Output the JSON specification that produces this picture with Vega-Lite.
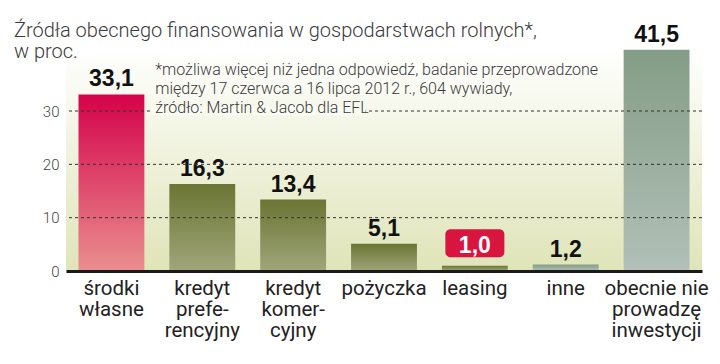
{
  "$schema": "https://vega.github.io/schema/vega-lite/v6.json",
  "width": 636,
  "height": 224,
  "autosize": {"type": "none"},
  "padding": {"left": 66, "top": 47, "right": 18, "bottom": 93},
  "background": "white",
  "title": {
    "text": ["Źródła obecnego finansowania w gospodarstwach rolnych*,", "w proc."],
    "anchor": "start",
    "frame": "group",
    "dx": -52,
    "dy": 42,
    "font": "Roboto",
    "fontSize": 20,
    "fontWeight": 300,
    "color": "#3a3a3a",
    "lineHeight": 21,
    "offset": 4
  },
  "config": {
    "locale": {"number": {"decimal": ",", "thousands": " ", "grouping": [3], "currency": ["", " zł"]}},
    "view": {
      "stroke": null,
      "fill": {"gradient": "linear", "x1": 0, "y1": 0, "x2": 0, "y2": 1, "stops": [{"offset": 0, "color": "#ffffff"}, {"offset": 1, "color": "#dfe4b8"}]}
    }
  },
  "data": {
    "values": [
      {"category": "środki|własne", "value": 33.1},
      {"category": "kredyt|prefe-|rencyjny", "value": 16.3},
      {"category": "kredyt|komer-|cyjny", "value": 13.4},
      {"category": "pożyczka", "value": 5.1},
      {"category": "leasing", "value": 1.0},
      {"category": "inne", "value": 1.2},
      {"category": "obecnie nie|prowadzę|inwestycji", "value": 41.5}
    ]
  },
  "layer": [
    {
      "encoding": {
        "x": {
          "field": "category",
          "type": "nominal",
          "sort": null,
          "scale": {"paddingInner": 0.275, "paddingOuter": 0.1375},
          "axis": {
            "title": null,
            "labelAngle": 0,
            "labelExpr": "split(datum.value, '|')",
            "labelFont": "Roboto",
            "labelFontSize": 20.5,
            "labelColor": "#222222",
            "labelLineHeight": 21,
            "labelPadding": 7,
            "ticks": false,
            "domainColor": "#1a1a1a",
            "domainWidth": 3,
            "zindex": 2
          }
        },
        "y": {
          "field": "value",
          "type": "quantitative",
          "scale": {"domain": [0, 42], "nice": false},
          "axis": {
            "title": null,
            "values": [0, 10, 20, 30],
            "domain": false,
            "ticks": false,
            "grid": false,
            "labelFont": "Roboto",
            "labelFontSize": 15,
            "labelFontWeight": 300,
            "labelColor": "#444444",
            "labelPadding": 7
          }
        }
      },
      "layer": [
        {
          "transform": [{"filter": {"field": "category", "equal": "środki|własne"}}],
          "mark": {"type": "bar", "color": {"gradient": "linear", "x1": 0, "y1": 0, "x2": 0, "y2": 1, "stops": [{"offset": 0, "color": "#d4024a"}, {"offset": 1, "color": "#ea8f8f"}]}}
        },
        {
          "transform": [{"filter": {"field": "category", "oneOf": ["kredyt|prefe-|rencyjny", "kredyt|komer-|cyjny", "pożyczka", "leasing"]}}],
          "mark": {"type": "bar", "color": {"gradient": "linear", "x1": 0, "y1": 0, "x2": 0, "y2": 1, "stops": [{"offset": 0, "color": "#6b7533"}, {"offset": 1, "color": "#a0a67b"}]}}
        },
        {
          "transform": [{"filter": {"field": "category", "oneOf": ["inne", "obecnie nie|prowadzę|inwestycji"]}}],
          "mark": {"type": "bar", "color": {"gradient": "linear", "x1": 0, "y1": 0, "x2": 0, "y2": 1, "stops": [{"offset": 0, "color": "#849d86"}, {"offset": 1, "color": "#b2c0b8"}]}}
        },
        {
          "transform": [{"filter": {"field": "category", "equal": "leasing"}}],
          "mark": {"type": "bar", "color": "#d7153f", "size": 59, "cornerRadius": 5},
          "encoding": {"y": {"datum": 2.6}, "y2": {"datum": 7.85}}
        },
        {
          "transform": [{"filter": {"field": "category", "oneOf": ["środki|własne", "kredyt|prefe-|rencyjny", "kredyt|komer-|cyjny", "pożyczka", "inne", "obecnie nie|prowadzę|inwestycji"]}}],
          "mark": {"type": "text", "baseline": "alphabetic", "dy": -8, "font": "Liberation Sans", "fontWeight": "bold", "fontSize": 23, "color": "#111111"},
          "encoding": {"text": {"field": "value", "type": "quantitative", "format": ".1f"}}
        },
        {
          "transform": [{"filter": {"field": "category", "equal": "leasing"}}],
          "mark": {"type": "text", "baseline": "alphabetic", "dy": -13, "font": "Liberation Sans", "fontWeight": "bold", "fontSize": 23, "color": "#ffffff"},
          "encoding": {"text": {"field": "value", "type": "quantitative", "format": ".1f"}}
        }
      ]
    },
    {
      "data": {"values": [{"grid": 10}, {"grid": 20}, {"grid": 30}]},
      "mark": {"type": "rule", "strokeDash": [3, 3], "color": "#333333", "strokeWidth": 1},
      "encoding": {"y": {"field": "grid", "type": "quantitative"}}
    },
    {
      "transform": [{"filter": {"field": "category", "equal": "kredyt|prefe-|rencyjny"}}],
      "mark": {"type": "bar", "color": "#fafbf3", "size": 214, "xOffset": 56},
      "encoding": {
        "x": {"field": "category", "type": "nominal", "sort": null},
        "y": {"datum": 29.2},
        "y2": {"datum": 30.8}
      }
    },
    {
      "transform": [{"filter": {"field": "category", "equal": "kredyt|prefe-|rencyjny"}}],
      "mark": {"type": "text", "align": "left", "baseline": "alphabetic", "dx": -47, "font": "Roboto", "fontWeight": 300, "fontSize": 16, "lineHeight": 19, "color": "#3a3a3a"},
      "encoding": {
        "x": {"field": "category", "type": "nominal", "sort": null},
        "y": {"datum": 36.75},
        "text": {"value": ["*możliwa więcej niż jedna odpowiedź, badanie przeprowadzone", "między 17 czerwca a 16 lipca 2012 r., 604 wywiady,", "źródło: Martin & Jacob dla EFL"]}
      }
    }
  ]
}
